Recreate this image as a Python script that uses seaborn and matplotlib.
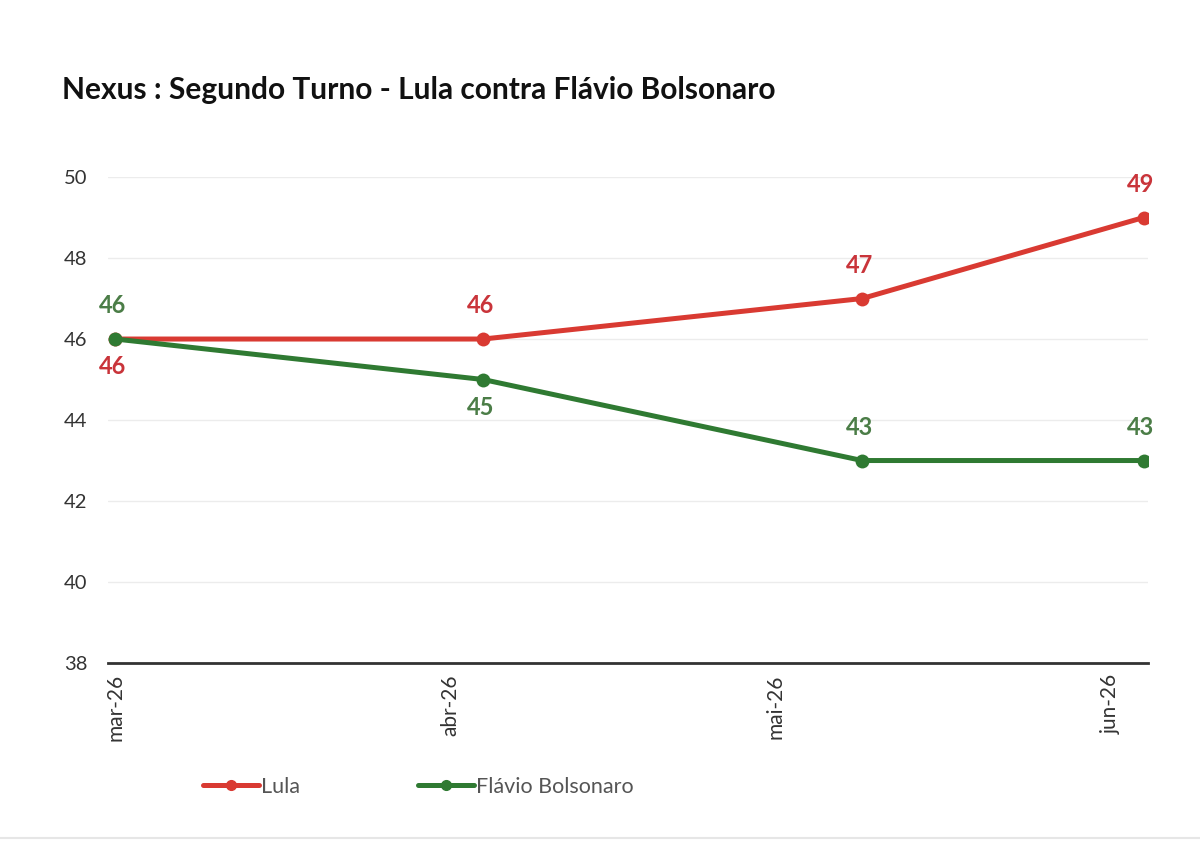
import matplotlib
matplotlib.use("Agg")
import matplotlib.pyplot as plt
from matplotlib.lines import Line2D
import pandas as pd
import seaborn as sns

# Data
dates = ["2026-03-01", "2026-04-04", "2026-05-09", "2026-06-04"]
lula = [46, 46, 47, 49]
flavio = [46, 45, 43, 43]
series_names = ["Lula", "Flávio Bolsonaro"]
colors = ["#d93a32", "#2f7a32"]
label_colors = ["#c9343a", "#4b7d47"]
# label position per point: +1 above, -1 below
lula_pos = [-1, 1, 1, 1]
flavio_pos = [1, -1, 1, 1]
title = "Nexus : Segundo Turno - Lula contra Flávio Bolsonaro"

df = pd.DataFrame({
    "date": pd.to_datetime(dates * 2),
    "value": lula + flavio,
    "serie": [series_names[0]] * 4 + [series_names[1]] * 4,
})

sns.set_style("white")
plt.rcParams["font.family"] = ["Lato", "DejaVu Sans"]

fig = plt.figure(figsize=(12, 8.47), dpi=100)
ax = fig.add_axes([0.09, 0.2172, 0.8667, 0.5738])

sns.lineplot(data=df, x="date", y="value", hue="serie", palette=colors,
             hue_order=series_names, marker="o", markersize=10, linewidth=3.6,
             markeredgewidth=0, ax=ax, legend=False)

ax.set_ylim(38, 50)
ax.set_yticks(range(38, 51, 2))
ax.set_xlim(pd.Timestamp("2026-03-01") - pd.Timedelta(hours=16),
            pd.Timestamp("2026-06-04") + pd.Timedelta(hours=10))
ax.set_xticks(pd.to_datetime(["2026-03-01", "2026-04-01", "2026-05-01", "2026-06-01"]))
ax.set_xticklabels(["mar-26", "abr-26", "mai-26", "jun-26"], rotation=90,
                   va="top", ha="center")
ax.set_xlabel("")
ax.set_ylabel("")
ax.tick_params(axis="y", length=0, pad=15, labelsize=14.5, labelcolor="#333333")
ax.tick_params(axis="x", length=0, pad=8, labelsize=15, labelcolor="#333333")
ax.grid(axis="y", color="#ececec", linewidth=1)
for s in ["top", "right", "left"]:
    ax.spines[s].set_visible(False)
ax.spines["bottom"].set_color("#333333")
ax.spines["bottom"].set_linewidth(2)

# value labels
x = pd.to_datetime(dates)
for vals, pos, c in [(lula, lula_pos, label_colors[0]), (flavio, flavio_pos, label_colors[1])]:
    for xi, v, p in zip(x, vals, pos):
        off = 24 if p > 0 else -20
        ax.annotate(str(v), (xi, v), xytext=(-2, off), textcoords="offset points",
                    ha="center", va="center", fontsize=17, fontweight="bold",
                    color=c, annotation_clip=False)

fig.text(62 / 1200, 1 - 90 / 847, title, fontsize=21.5, fontweight="bold",
         color="#111111", va="center", ha="left")

handles = [Line2D([], [], color=c, linewidth=3.6, marker="o", markersize=7)
           for c in colors]
fig.legend(handles, series_names, loc="center left",
           bbox_to_anchor=(192 / 1200, 1 - 787 / 847), ncol=2, frameon=False,
           fontsize=15.5, handlelength=2.6, handletextpad=0.1, columnspacing=5.5,
           borderpad=0, labelcolor="#555555")

fig.add_artist(Line2D([0, 1], [1 - 838 / 847] * 2, color="#e6e6e6", linewidth=1.5))

fig.savefig("out.png", dpi=100, facecolor="white")
